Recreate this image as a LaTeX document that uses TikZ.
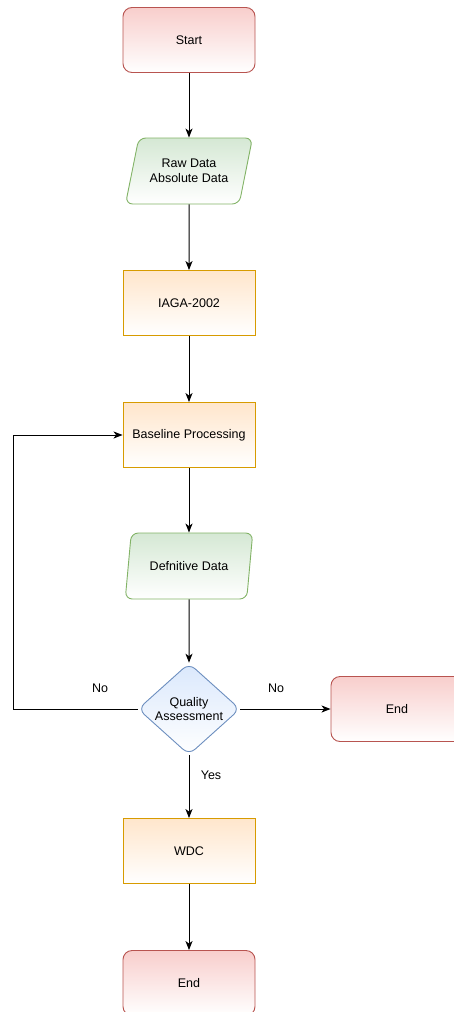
\documentclass[tikz,border=0pt]{standalone}
\usepackage{fontspec}
\setmainfont{Liberation Sans}
\usetikzlibrary{shapes.geometric, arrows.meta}
\definecolor{termfill}{HTML}{F8CECC}
\definecolor{termline}{HTML}{B85450}
\definecolor{iofill}{HTML}{D5E8D4}
\definecolor{ioline}{HTML}{82B366}
\definecolor{procfill}{HTML}{FFE6CC}
\definecolor{procline}{HTML}{D79B00}
\definecolor{qafill}{HTML}{DAE8FC}
\definecolor{qaline}{HTML}{6C8EBF}
\tikzset{
  boxbase/.style={draw, line width=0.9pt, text=black, font=\fontsize{12.5}{14.5}\selectfont,
    align=center, minimum width=132pt, minimum height=65pt, inner sep=0pt},
  term/.style={boxbase, rounded corners=9pt, draw=termline, top color=termfill, bottom color=white},
  proc/.style={boxbase, draw=procline, top color=procfill, bottom color=white},
  io/.style={boxbase, trapezium, trapezium left angle=66, trapezium right angle=114,
    trapezium stretches=true, minimum width=128pt, minimum height=66pt, rounded corners=7pt,
    draw=ioline, top color=iofill, bottom color=white},
  decide/.style={boxbase, diamond, minimum width=102pt, minimum height=81pt, rounded corners=8pt,
    draw=qaline, top color=qafill, bottom color=white},
  flow/.style={-{Stealth[length=9pt, width=7pt, inset=2.5pt]}, line width=1pt},
  lbl/.style={font=\fontsize{12.5}{14.5}\selectfont, inner sep=0pt},
}

\begin{document}
\begin{tikzpicture}[x=1pt, y=-1pt]
    \useasboundingbox (0,0) rectangle (454,1012);

    \node[term] (start) at (189,40) {Start};
    \node[io] (raw) at (189,171) {Raw Data\\Absolute Data};
    \node[proc] (iaga) at (189,303) {IAGA-2002};
    \node[proc] (baseline) at (189,435) {Baseline Processing};
    \node[io] (defin) at (189,566) {Defnitive Data};
    \node[decide] (qa) at (189,709) {Quality\\Assessment};
    \node[term] (endright) at (397,709) {End};
    \node[proc] (wdc) at (189,851) {WDC};
    \node[term] (endbottom) at (189,983) {End};

    \draw[flow] (start) -- (raw);
    \draw[flow] (raw) -- (iaga);
    \draw[flow] (iaga) -- (baseline);
    \draw[flow] (baseline) -- (defin);
    \draw[flow] (defin) -- (qa);
    \draw[flow] (qa) -- (wdc);
    \draw[flow] (wdc) -- (endbottom);
    \draw[flow] (qa) -- (endright);

    % back to baseline when the check fails
    \coordinate (loop) at (13,709);
    \draw[flow] (qa.west) -- (loop) |- (baseline.west);

    \node[lbl] (noleft) at (100,688) {No};
    \node[lbl] (noright) at (276,688) {No};
    \node[lbl] (yes) at (211,775) {Yes};
\end{tikzpicture}
\end{document}
